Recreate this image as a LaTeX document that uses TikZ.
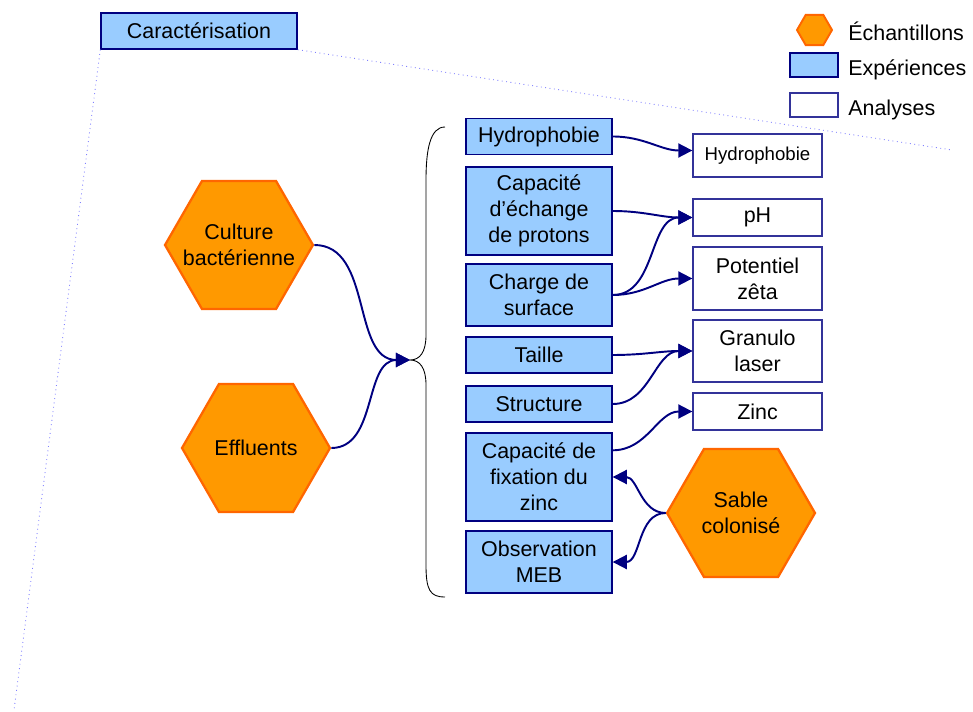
\documentclass[tikz,border=0pt]{standalone}
\usepackage{fontspec}
\setmainfont{Liberation Sans}
\usetikzlibrary{shapes.geometric,arrows.meta}

\definecolor{expfill}{HTML}{99CCFF}
\definecolor{expline}{HTML}{000080}
\definecolor{analine}{HTML}{333399}
\definecolor{echfill}{HTML}{FF9900}
\definecolor{echline}{HTML}{FF6600}
\definecolor{fleche}{HTML}{000080}
\definecolor{pointille}{HTML}{8080FF}

\tikzset{
  expbox/.style={draw=expline, fill=expfill, line width=0.8pt, minimum width=2.92cm,
     minimum height=0.72cm, align=center, inner sep=1pt},
  anabox/.style={draw=analine, fill=white, line width=0.8pt, minimum width=2.58cm,
     minimum height=0.74cm, align=center, inner sep=1pt},
  echhex/.style={regular polygon, regular polygon sides=6, draw=echline, fill=echfill,
     line width=1.3pt, minimum size=2.96cm, align=center, inner sep=-0.32cm},
  legtext/.style={anchor=west, inner sep=0pt},
  lien/.style={draw=fleche, line width=1.1pt, -{Triangle[length=8pt,width=8pt]}}
}

\begin{document}
\begin{tikzpicture}[x=0.02cm, y=-0.02cm, font=\fontsize{12.2}{14.7}\selectfont]
            \useasboundingbox (0,0) rectangle (973,712);
            % zoom lines
            \node[expbox, minimum width=3.92cm] (cara) at (199,31) {Caractérisation};
            \coordinate (zoomd) at (952,150);
            \coordinate (zoomg) at (14,710);
            \draw[pointille, dotted, line width=0.5pt] (cara.south east) -- (zoomd);
            \draw[pointille, dotted, line width=0.5pt] (cara.south west) -- (zoomg);
            % legend
            \node[echhex, minimum size=0.7cm, line width=1.1pt] (legech) at (814.5,30) {};
            \node[expbox, minimum width=0.96cm, minimum height=0.48cm] (legexp) at (814,65) {};
            \node[anabox, minimum width=0.96cm, minimum height=0.48cm] (legana) at (814,105) {};
            \node[legtext] (txtech) at (848,31) {Échantillons};
            \node[legtext] (txtexp) at (848,70) {Expériences};
            \node[legtext] (txtana) at (848,110) {Analyses};
            % samples
            \node[echhex] (culture) at (239,245) {Culture\\bactérienne};
            \node[echhex] (effluents) at (256,448) {Effluents};
            \node[echhex] (sable) at (741,513) {Sable\\colonisé};
            % experiments
            \node[expbox] (hydro) at (539,136.5) {Hydrophobie};
            \node[expbox, minimum height=1.76cm] (protons) at (539,211) {Capacité\\d’échange\\de protons};
            \node[expbox, minimum height=1.24cm] (charge) at (539,295) {Charge de\\surface};
            \node[expbox] (taille) at (539,355) {Taille};
            \node[expbox] (structure) at (539,404) {Structure};
            \node[expbox, minimum height=1.76cm] (fixzinc) at (539,477) {Capacité de\\fixation du\\zinc};
            \node[expbox, minimum height=1.24cm] (meb) at (539,562) {Observation\\MEB};
            % analyses
            \node[anabox, minimum height=0.86cm, font=\fontsize{10.6}{12.7}\selectfont] (anahydro) at (757.5,155.5) {Hydrophobie};
            \node[anabox] (ph) at (757.5,217.5) {pH};
            \node[anabox, minimum height=1.26cm] (zeta) at (757.5,278.5) {Potentiel\\zêta};
            \node[anabox, minimum height=1.24cm] (granulo) at (757.5,351) {Granulo\\laser};
            \node[anabox] (zinc) at (757.5,411.5) {Zinc};
            % brace
            \coordinate (pointe) at (410,360);
            \draw[line width=0.5pt] (445,127) .. controls (430,127) and (426,150) .. (426,180) -- (426,335)
                .. controls (426,352) and (420,360) .. (pointe)
                .. controls (420,360) and (426,368) .. (426,385) -- (426,565)
                .. controls (426,590) and (430,597) .. (445,597);
            % arrows
            \draw[lien] (culture.east) to[out=0, in=180] (pointe);
            \draw[lien] (effluents.east) to[out=0, in=180] (pointe);
            \draw[lien] (hydro.east) to[out=0, in=180] ([yshift=0.1cm]anahydro.west);
            \draw[lien] (protons.east) to[out=0, in=180] (ph.west);
            \draw[lien] (charge.east) to[out=0, in=180] (ph.west);
            \draw[lien] (charge.east) to[out=0, in=180] (zeta.west);
            \draw[lien] (taille.east) to[out=0, in=180] (granulo.west);
            \draw[lien] (structure.east) to[out=0, in=180] (granulo.west);
            \draw[lien] ([yshift=-0.36cm]fixzinc.north east) to[out=0, in=180] (zinc.west);
            \draw[lien] (sable.west) to[out=180, in=0] (fixzinc.east);
            \draw[lien] (sable.west) to[out=180, in=0] (meb.east);
        \end{tikzpicture}
\end{document}
